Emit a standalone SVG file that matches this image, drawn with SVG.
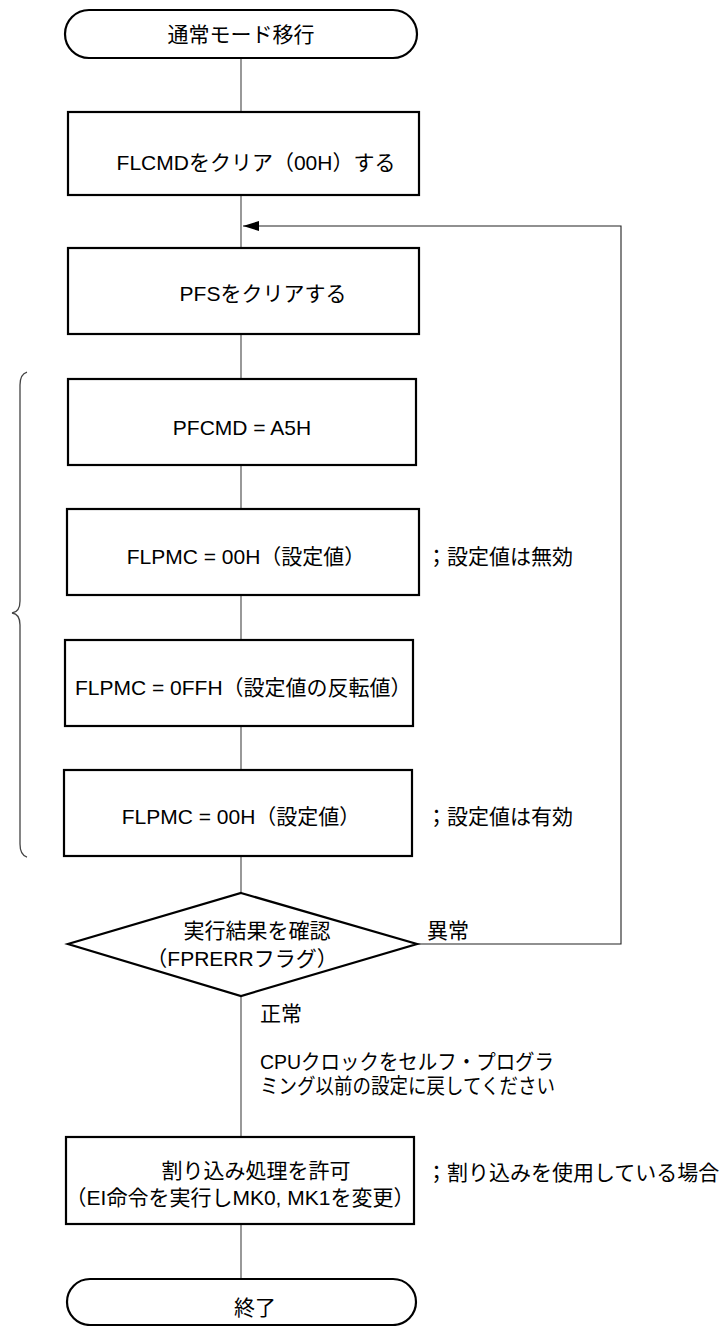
<svg xmlns="http://www.w3.org/2000/svg" width="726" height="1326" viewBox="0 0 726 1326">
<style>
text { font-family: "Liberation Sans", "Noto Sans CJK JP", sans-serif; font-size: 21px; fill: #000; }
.mid { text-anchor: middle; }
.box { fill: #fff; stroke: #000; stroke-width: 2.2; }
.conn { fill: none; stroke: #555; stroke-width: 1.2; }
.loop { fill: none; stroke: #222; stroke-width: 1.1; }
.brace { fill: none; stroke: #444; stroke-width: 1.3; }
</style>
<defs>
<marker id="arr" markerWidth="16" markerHeight="10" refX="16" refY="5" orient="auto" markerUnits="userSpaceOnUse">
<path d="M0,0 L16,5 L0,10 Z" fill="#000"/>
</marker>
</defs>
<rect width="726" height="1326" fill="#fff"/>
<g id="connectors">
<path class="conn" d="M241,59 V112 M241,195 V248 M241,334 V379 M241,465 V509 M241,595 V640 M241,726 V770 M241,856 V893 M241,996 V1137 M241,1224 V1279"/>
<path class="loop" d="M417,944 H621 V226 H243" marker-end="url(#arr)"/>
</g>
<g id="brace">
<path class="brace" d="M27,372 Q20,374 20,385 L20,601 Q20,612 12,613 Q20,614 20,625 L20,844 Q20,855 27,857"/>
</g>
<g id="start">
<rect class="box" x="65" y="10" width="352" height="48" rx="24" ry="24"/>
<text class="mid" x="241" y="42">通常モード移行</text>
</g>
<g id="clear-flcmd">
<rect class="box" x="68" y="112" width="351" height="83"/>
<text class="mid" x="256" y="170">FLCMDをクリア（00H）する</text>
</g>
<g id="clear-pfs">
<rect class="box" x="68" y="248" width="351" height="86"/>
<text class="mid" x="263" y="301">PFSをクリアする</text>
</g>
<g id="pfcmd">
<rect class="box" x="68" y="379" width="348" height="86"/>
<text class="mid" x="242" y="435">PFCMD = A5H</text>
</g>
<g id="flpmc1">
<rect class="box" x="67" y="509" width="352" height="86"/>
<text class="mid" x="246" y="564">FLPMC = 00H（設定値）</text>
<text x="426" y="564">；設定値は無効</text>
</g>
<g id="flpmc2">
<rect class="box" x="65" y="640" width="348" height="86"/>
<text x="75" y="695">FLPMC = 0FFH（設定値の反転値）</text>
</g>
<g id="flpmc3">
<rect class="box" x="64" y="770" width="348" height="86"/>
<text class="mid" x="241" y="824">FLPMC = 00H（設定値）</text>
<text x="426" y="824">；設定値は有効</text>
</g>
<g id="check">
<polygon class="box" points="241,893 417,944 241,996 68,944"/>
<text class="mid" x="257" y="938">実行結果を確認</text>
<text class="mid" x="242" y="966">（FPRERRフラグ）</text>
<text x="427" y="938">異常</text>
<text x="260" y="1021">正常</text>
<text x="260" y="1069" textLength="294" lengthAdjust="spacingAndGlyphs">CPUクロックをセルフ・プログラ</text>
<text x="260" y="1093" textLength="295" lengthAdjust="spacingAndGlyphs">ミング以前の設定に戻してください</text>
</g>
<g id="enable-int">
<rect class="box" x="66" y="1137" width="348" height="87"/>
<text class="mid" x="256" y="1178">割り込み処理を許可</text>
<text class="mid" x="240" y="1205">（EI命令を実行しMK0, MK1を変更）</text>
<text x="426" y="1180">；割り込みを使用している場合</text>
</g>
<g id="end">
<rect class="box" x="67" y="1279" width="349" height="46" rx="23" ry="23"/>
<text class="mid" x="255" y="1315">終了</text>
</g>
</svg>
